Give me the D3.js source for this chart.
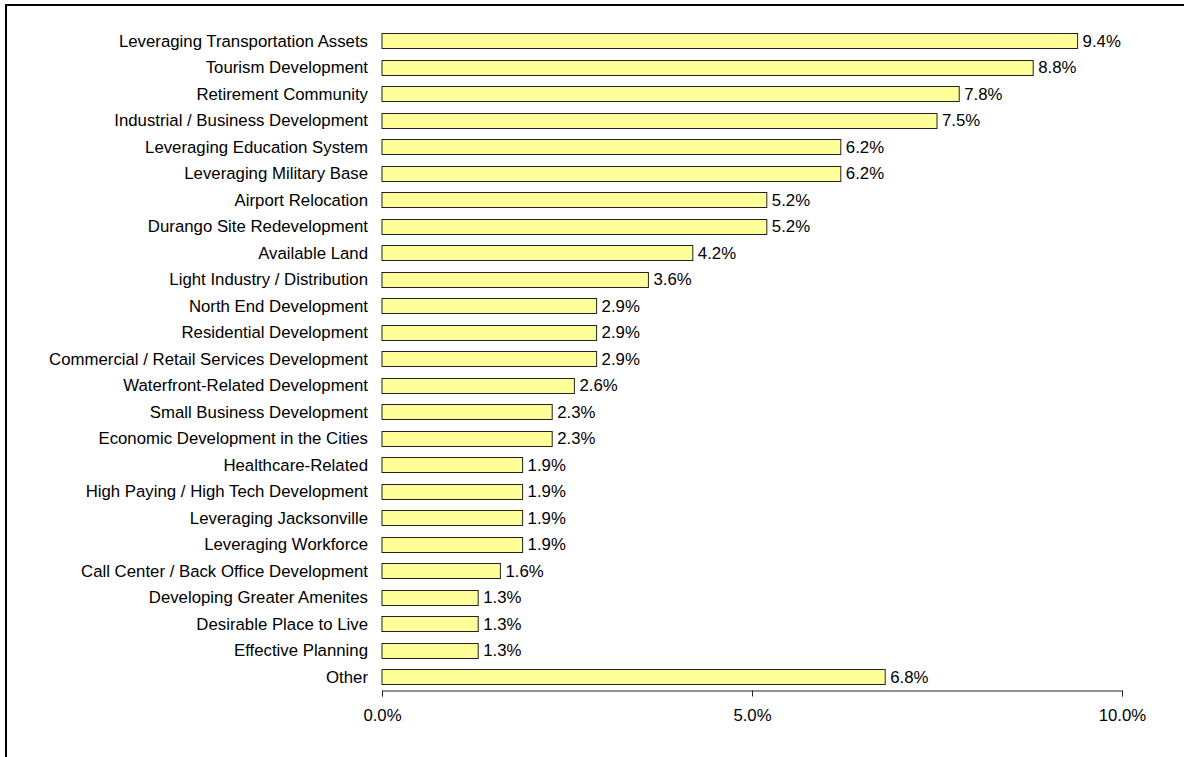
<!DOCTYPE html>
<html lang="en">
<head>
	<title>Bar chart</title>
	<script src="https://d3js.org/d3.v7.min.js" charset="utf-8"></script>
	<style>
		body { margin: 0; background: #fff; }
		text { font-family: "Liberation Sans", Arial, sans-serif; }
	</style>
</head>
<body>
	<script>
		var categories = [
			"Leveraging Transportation Assets",
			"Tourism Development",
			"Retirement Community",
			"Industrial / Business Development",
			"Leveraging Education System",
			"Leveraging Military Base",
			"Airport Relocation",
			"Durango Site Redevelopment",
			"Available Land",
			"Light Industry / Distribution",
			"North End Development",
			"Residential Development",
			"Commercial / Retail Services Development",
			"Waterfront-Related Development",
			"Small Business Development",
			"Economic Development in the Cities",
			"Healthcare-Related",
			"High Paying / High Tech Development",
			"Leveraging Jacksonville",
			"Leveraging Workforce",
			"Call Center / Back Office Development",
			"Developing Greater Amenites",
			"Desirable Place to Live",
			"Effective Planning",
			"Other"
		]
		var values = [9.4, 8.8, 7.8, 7.5, 6.2, 6.2, 5.2, 5.2, 4.2, 3.6, 2.9, 2.9, 2.9, 2.6, 2.3, 2.3, 1.9, 1.9, 1.9, 1.9, 1.6, 1.3, 1.3, 1.3, 6.8]
		var tickValues = [0, 5, 10]

		var width = 1184
		var height = 757
		var fontSize = "16.8px"

		var svg = d3.select("body").append("svg")
			.attr("width", width)
			.attr("height", height)

		// outer frame (runs off the right and bottom)
		svg.append("rect")
			.attr("x", 6)
			.attr("y", 5)
			.attr("width", 1300)
			.attr("height", 900)
			.attr("fill", "none")
			.attr("stroke", "#000")
			.attr("stroke-width", 2)

		var x = d3.scaleLinear()
			.domain([0, 10])
			.range([382, 1122])

		var y = d3.scaleBand()
			.domain(categories)
			.range([27.5, 690])
			.paddingInner(0.45)
			.paddingOuter(0.225)

		var data = categories.map(function(c, i) { return {name: c, value: values[i]} })

		svg.append("g")
			.selectAll("rect")
			.data(data)
			.enter()
			.append("rect")
			.attr("x", x(0))
			.attr("y", function(d) { return Math.round(y(d.name)) + 0.5 })
			.attr("width", function(d) { return x(d.value) - x(0) })
			.attr("height", Math.round(y.bandwidth()))
			.attr("fill", "#ffff99")
			.attr("stroke", "#222")
			.attr("stroke-width", 1)

		svg.append("g")
			.selectAll("text")
			.data(data)
			.enter()
			.append("text")
			.attr("x", function(d) { return x(d.value) + 5 })
			.attr("y", function(d) { return y(d.name) + y.bandwidth() / 2 })
			.attr("dy", "0.35em")
			.attr("font-size", fontSize)
			.attr("fill", "#000")
			.text(function(d) { return d.value.toFixed(1) + "%" })

		// category labels
		svg.append("g")
			.selectAll("text")
			.data(data)
			.enter()
			.append("text")
			.attr("x", 368)
			.attr("y", function(d) { return y(d.name) + y.bandwidth() / 2 })
			.attr("dy", "0.35em")
			.attr("text-anchor", "end")
			.attr("font-size", fontSize)
			.attr("fill", "#000")
			.text(function(d) { return d.name })

		var xAxis = svg.append("g")
			.attr("transform", "translate(0,690.5)")
			.call(d3.axisBottom(x)
				.tickValues(tickValues)
				.tickSizeOuter(0)
				.tickSize(6)
				.tickPadding(13)
				.tickFormat(function(d) { return d.toFixed(1) + "%" }))

		xAxis.select(".domain").attr("stroke", "#222")
		xAxis.selectAll(".tick line").attr("stroke", "#222")
		xAxis.selectAll(".tick text")
			.attr("font-size", fontSize)
			.attr("font-family", "Liberation Sans, Arial, sans-serif")
			.attr("fill", "#000")
	</script>
</body>
</html>
